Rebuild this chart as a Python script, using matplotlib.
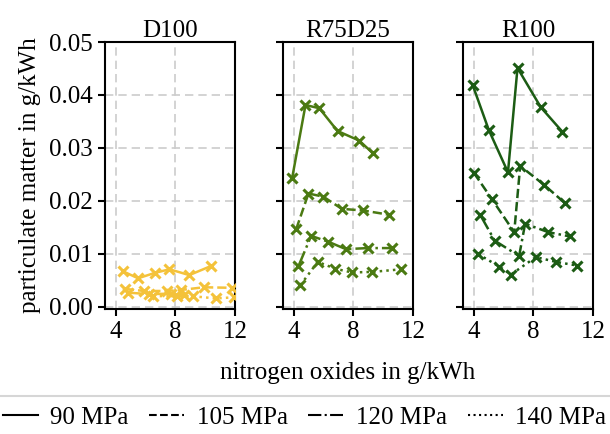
import matplotlib
matplotlib.use("Agg")
import matplotlib.pyplot as plt
from matplotlib.lines import Line2D

plt.rcParams['font.family'] = ['Liberation Serif', 'DejaVu Serif']
plt.rcParams['font.size'] = 18

fuels = ["D100", "R75D25", "R100"]
colors = ["#f4c23a", "#4b7a12", "#1c5c14"]
pressures = ["90 MPa", "105 MPa", "120 MPa", "140 MPa"]
styles = ["-", "--", "-.", ":"]

# NOx (g/kWh) and PM (g/kWh) per fuel and rail pressure
d100_nox = [
    [4.49, 5.49, 6.60, 7.60, 8.93, 10.38],
    [4.60, 5.90, 7.40, 8.40, 9.90, 11.80],
    [4.80, 6.20, 7.70, 8.60],
    [6.50, 8.10, 9.20, 10.70, 11.90],
]
d100_pm = [
    [0.0067, 0.0054, 0.0064, 0.0071, 0.0060, 0.0077],
    [0.0034, 0.0030, 0.0030, 0.0032, 0.0037, 0.0036],
    [0.0027, 0.0024, 0.0025, 0.0022],
    [0.0020, 0.0021, 0.0020, 0.0016, 0.0018],
]
r75_nox = [
    [3.89, 4.78, 5.71, 6.93, 8.38, 9.31],
    [4.16, 4.98, 5.98, 7.22, 8.64, 10.38],
    [4.31, 5.16, 6.31, 7.49, 8.96, 10.56],
    [4.44, 5.60, 6.78, 7.89, 9.27, 11.22],
]
r75_pm = [
    [0.0244, 0.0381, 0.0375, 0.0332, 0.0314, 0.0290],
    [0.0147, 0.0214, 0.0208, 0.0185, 0.0182, 0.0174],
    [0.0077, 0.0134, 0.0123, 0.0109, 0.0111, 0.0111],
    [0.0041, 0.0085, 0.0072, 0.0065, 0.0066, 0.0071],
]
r100_nox = [
    [3.93, 5.00, 6.29, 6.93, 8.49, 9.93],
    [4.00, 5.22, 6.71, 7.11, 8.73, 10.11],
    [4.44, 5.40, 7.04, 7.44, 9.00, 10.44],
    [4.27, 5.71, 6.49, 8.16, 9.51, 10.93],
]
r100_pm = [
    [0.0418, 0.0334, 0.0254, 0.0451, 0.0377, 0.0331],
    [0.0253, 0.0203, 0.0141, 0.0266, 0.0230, 0.0196],
    [0.0173, 0.0125, 0.0096, 0.0157, 0.0141, 0.0133],
    [0.0100, 0.0076, 0.0061, 0.0094, 0.0085, 0.0078],
]
nox_all = [d100_nox, r75_nox, r100_nox]
pm_all = [d100_pm, r75_pm, r100_pm]

fig = plt.figure(figsize=(6.1, 4.34), dpi=100)
lefts = [105 / 610, 283 / 610, 463 / 610]
width = 130 / 610
bottom = (434 - 309) / 434
height = 267 / 434

for i, fuel in enumerate(fuels):
    ax = fig.add_axes([lefts[i], bottom, width, height])
    for j in range(4):
        ax.plot(nox_all[i][j], pm_all[i][j], linestyle=styles[j], color=colors[i],
                marker="x", markersize=7.5, markeredgewidth=2.2, linewidth=1.8, zorder=3)
    ax.set_xlim(3.27, 12)
    ax.set_ylim(-0.0004, 0.05)
    ax.set_xticks([4, 8, 12])
    ax.set_yticks([0, 0.01, 0.02, 0.03, 0.04, 0.05])
    ax.grid(True, linestyle=(0, (5, 3)), color="#cccccc", linewidth=1.2, zorder=0)
    ax.set_title(fuel, fontsize=18, pad=3)
    for s in ax.spines.values():
        s.set_linewidth(1.5)
    ax.tick_params(direction="out", width=1.5, length=5, labelsize=18)
    if i == 0:
        ax.set_yticklabels(["0.00", "0.01", "0.02", "0.03", "0.04", "0.05"])
        ax.set_ylabel("particulate matter in g/kWh", fontsize=18, labelpad=6)
    else:
        ax.set_yticklabels([])
    if i == 1:
        ax.set_xlabel("nitrogen oxides in g/kWh", fontsize=18, labelpad=14)

# legend box spans past the figure edges so only its top rule shows
handles = [Line2D([], [], color="black", linestyle=styles[j], linewidth=1.5) for j in range(4)]
leg = fig.legend(handles, pressures, loc="upper left",
                 bbox_to_anchor=(-0.012, 0.0, 1.022, (434 - 396) / 434), mode="expand",
                 borderaxespad=0.0, ncol=4, frameon=True, fancybox=False, fontsize=18,
                 handlelength=1.4, columnspacing=0.8, handletextpad=0.5, borderpad=0.4)
leg.get_frame().set_edgecolor("#cccccc")
leg.get_frame().set_linewidth(1.5)

fig.savefig("out.png", dpi=100)
